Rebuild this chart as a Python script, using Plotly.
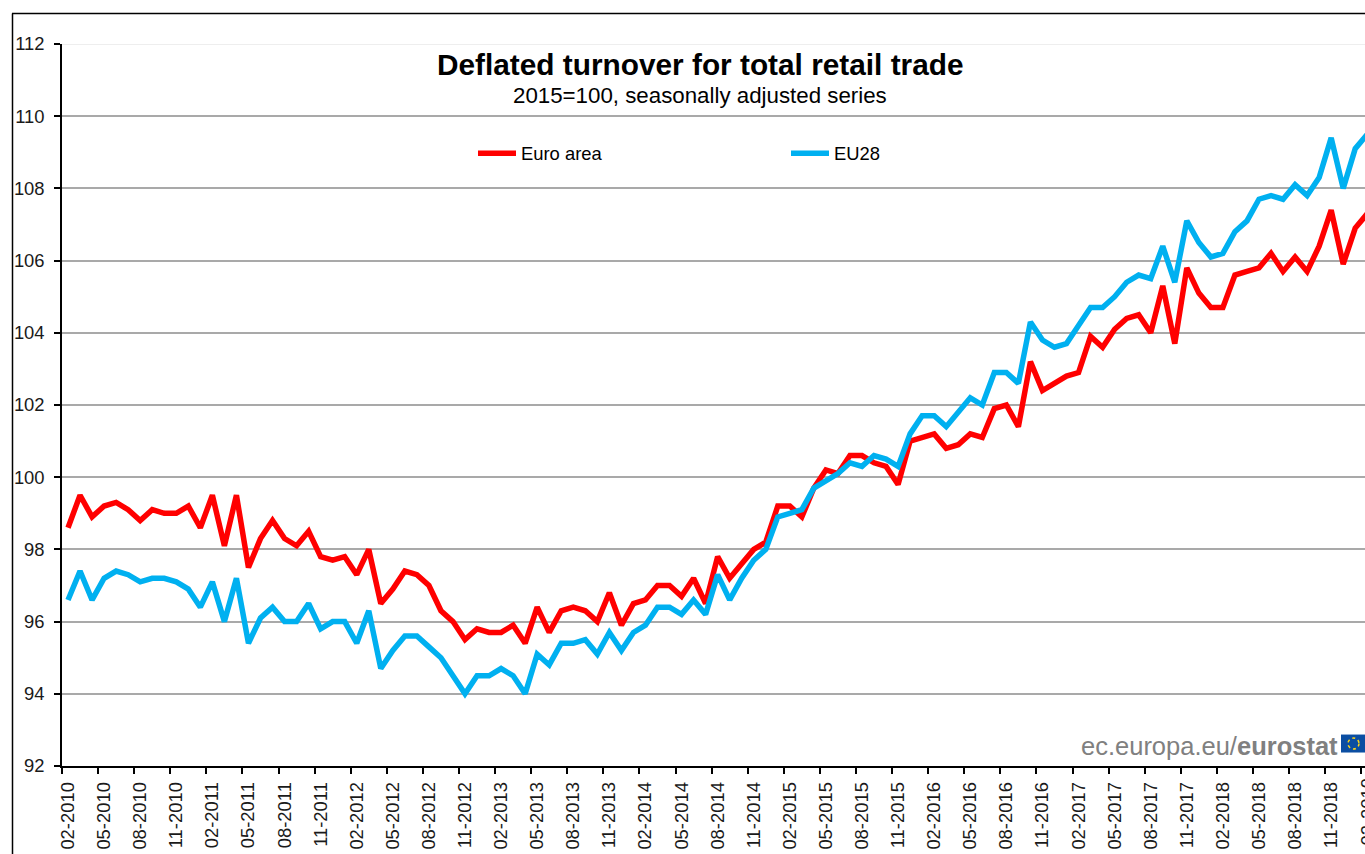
import plotly.graph_objects as go

start_year, start_month = 2010, 2
euro_area = [98.6,99.5,98.9,99.2,99.3,99.1,98.8,99.1,99.0,99.0,99.2,98.6,99.5,98.1,99.5,97.5,98.3,98.8,98.3,98.1,
             98.5,97.8,97.7,97.8,97.3,98.0,96.5,96.9,97.4,97.3,97.0,96.3,96.0,95.5,95.8,95.7,95.7,95.9,95.4,96.4,
             95.7,96.3,96.4,96.3,96.0,96.8,95.9,96.5,96.6,97.0,97.0,96.7,97.2,96.5,97.8,97.2,97.6,98.0,98.2,99.2,
             99.2,98.9,99.7,100.2,100.1,100.6,100.6,100.4,100.3,99.8,101.0,101.1,101.2,100.8,100.9,101.2,101.1,101.9,102.0,101.4,
             103.2,102.4,102.6,102.8,102.9,103.9,103.6,104.1,104.4,104.5,104.0,105.3,103.7,105.8,105.1,104.7,104.7,105.6,105.7,105.8,
             106.2,105.7,106.1,105.7,106.4,107.4,105.9,106.9,107.3]
eu28 = [96.6,97.4,96.6,97.2,97.4,97.3,97.1,97.2,97.2,97.1,96.9,96.4,97.1,96.0,97.2,95.4,96.1,96.4,96.0,96.0,
        96.5,95.8,96.0,96.0,95.4,96.3,94.7,95.2,95.6,95.6,95.3,95.0,94.5,94.0,94.5,94.5,94.7,94.5,94.0,95.1,
        94.8,95.4,95.4,95.5,95.1,95.7,95.2,95.7,95.9,96.4,96.4,96.2,96.6,96.2,97.3,96.6,97.2,97.7,98.0,98.9,
        99.0,99.1,99.7,99.9,100.1,100.4,100.3,100.6,100.5,100.3,101.2,101.7,101.7,101.4,101.8,102.2,102.0,102.9,102.9,102.6,
        104.3,103.8,103.6,103.7,104.2,104.7,104.7,105.0,105.4,105.6,105.5,106.4,105.4,107.1,106.5,106.1,106.2,106.8,107.1,107.7,
        107.8,107.7,108.1,107.8,108.3,109.4,108.0,109.1,109.5]
y_ticks = [92,94,96,98,100,102,104,106,108,110,112]

n = len(euro_area)
months = [f"{(start_month-1+i)%12+1:02d}-{start_year+(start_month-1+i)//12}" for i in range(n)]
idx = list(range(n))
tick_idx = idx[::3]

W, H = 1365, 854
L, T, B = 62, 43.5, 87.5
pw, ph = W - L, H - T - B
px = lambda v: (v - L) / pw
py = lambda v: 1 - (v - T) / ph
FONT = "Liberation Sans, Arial, sans-serif"
TICK = 18.4

fig = go.Figure()
fig.add_trace(go.Scatter(x=idx, y=euro_area, name="Euro area", mode="lines",
                         line=dict(color="#FF0000", width=5.5, shape="linear")))
fig.add_trace(go.Scatter(x=idx, y=eu28, name="EU28", mode="lines",
                         line=dict(color="#00B0F0", width=5.5, shape="linear")))

shapes = [
    dict(type="line", xref="paper", yref="paper", x0=px(12.5), x1=px(12.5), y0=py(13), y1=py(860), line=dict(color="black", width=1.5)),
    dict(type="line", xref="paper", yref="paper", x0=px(12), x1=px(1370), y0=py(13), y1=py(13), line=dict(color="black", width=1.5)),
    dict(type="line", xref="paper", yref="y", x0=0, x1=1, y0=112, y1=112, line=dict(color="#E8E8E8", width=1.5), layer="below"),
    dict(type="rect", xref="paper", yref="paper", x0=px(1341), x1=px(1366), y0=py(735), y1=py(753), fillcolor="#0B4EA2", line=dict(width=0)),
    dict(type="circle", xref="paper", yref="paper", x0=px(1348), x1=px(1359), y0=py(738.5), y1=py(749.5), line=dict(color="#FFD617", width=1.5, dash="dot")),
]
annotations = [
    dict(text="<b>Deflated turnover for total retail trade</b>", xref="paper", yref="paper", x=px(700), y=py(64.5), xanchor="center", yanchor="middle",
         showarrow=False, font=dict(family=FONT, size=29.8, color="black")),
    dict(text="2015=100, seasonally adjusted series", xref="paper", yref="paper", x=px(700), y=py(95.5), xanchor="center", yanchor="middle",
         showarrow=False, font=dict(family=FONT, size=22.3, color="black")),
    dict(text='ec.europa.eu/<b>eurostat</b>', xref="paper", yref="paper", x=px(1339.5), y=py(746), xanchor="right", yanchor="middle",
         showarrow=False, font=dict(family=FONT, size=25.5, color="#808080")),
    dict(text=months[108], xref="paper", yref="paper", x=px(1367), y=py(776), xanchor="center", yanchor="top", textangle=-90,
         showarrow=False, font=dict(family=FONT, size=TICK, color="#1A1A1A")),
]

fig.update_layout(
    width=W, height=H, autosize=False,
    margin=dict(l=L, r=0, t=T, b=B, pad=0),
    paper_bgcolor="white", plot_bgcolor="white",
    shapes=shapes, annotations=annotations,
    showlegend=True,
    legend=dict(orientation="h", x=px(473), y=py(153), xanchor="left", yanchor="middle",
                entrywidthmode="pixels", entrywidth=260, itemwidth=38, bgcolor="rgba(0,0,0,0)",
                font=dict(family=FONT, size=TICK, color="black"), traceorder="normal"),
    xaxis=dict(range=[-0.5, (W - L) / 12.03 - 0.5], tickmode="array", tickvals=tick_idx, ticktext=[months[i] for i in tick_idx],
               ticks="", tickangle=-90, showgrid=False, zeroline=False, showline=True, linecolor="black", linewidth=1.5,
               tickfont=dict(family=FONT, size=TICK, color="#1A1A1A"), ticklabelstandoff=7,
               minor=dict(tickmode="array", tickvals=[i - 0.5 for i in tick_idx], ticks="outside", ticklen=6, tickwidth=1.5, tickcolor="black", showgrid=False)),
    yaxis=dict(range=[92, 112], tickmode="array", tickvals=y_ticks, ticks="outside", ticklen=6, tickwidth=1.5, tickcolor="black",
               showgrid=True, gridcolor="#A9A9A9", gridwidth=1.5, zeroline=False, showline=True, linecolor="black", linewidth=1.5,
               tickfont=dict(family=FONT, size=TICK, color="#1A1A1A"), ticklabelstandoff=6),
)

fig.write_html("out.html", config=dict(displayModeBar=False),
               post_script="document.body.style.margin='0';document.body.style.overflow='hidden';")
